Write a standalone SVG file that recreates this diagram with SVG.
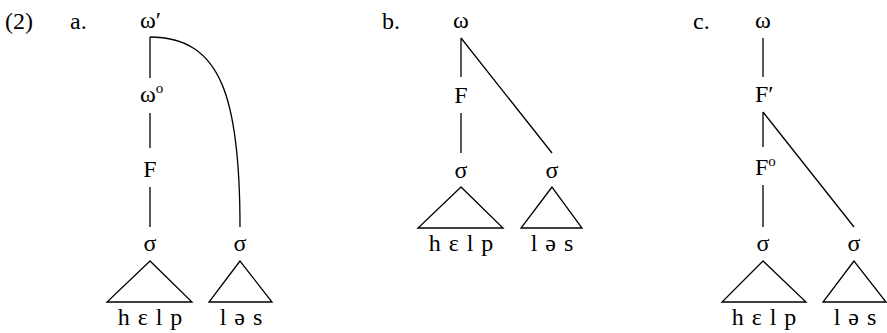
<svg xmlns="http://www.w3.org/2000/svg" width="887" height="333" viewBox="0 0 887 333">
<style>
text{font-family:"Liberation Serif","Times New Roman",serif;font-size:24px;fill:#000}
.m{text-anchor:middle}
.seg{word-spacing:2px}
.ln{stroke:#000;stroke-width:1.3;fill:none}
.sup{font-size:15px}
</style>
<rect width="887" height="333" fill="#fff"/>
<g id="labels">
<text x="5" y="29">(2)</text>
<text x="70" y="29">a.</text>
<text x="382" y="29">b.</text>
<text x="693" y="29">c.</text>
</g>
<g id="connectors" class="ln">
<path d="M150,37V78M150,113V148M150,187V227"/>
<path d="M150,37C222,37 240,100 240,227"/>
<path d="M461,38V77M461,113V153M461,38L552,153"/>
<path d="M763,38V77M763,112V147M763,185V227M763,112L854,227"/>
<path d="M150,261L107,302H192ZM240,261L209,302H272Z"/>
<path d="M461,187L418,228H503ZM552,187L521,228H582Z"/>
<path d="M763,261L722,302H806ZM854,261L823,302H886Z"/>
</g>
<g id="a-omega1"><text x="140" y="28">ω′</text></g>
<g id="a-omega0"><text x="140" y="102">ω<tspan class="sup" dy="-9">o</tspan></text></g>
<g id="a-F"><text class="m" x="150" y="177">F</text></g>
<g id="a-s1"><text class="m" x="150" y="251">σ</text></g>
<g id="a-s2"><text class="m" x="240" y="251">σ</text></g>
<g id="a-help"><text class="m seg" x="150" y="325">h ɛ l p</text></g>
<g id="a-les"><text class="m seg" x="241" y="325">l ə s</text></g>
<g id="b-omega"><text class="m" x="461" y="28">ω</text></g>
<g id="b-F"><text class="m" x="461" y="103">F</text></g>
<g id="b-s1"><text class="m" x="461" y="178">σ</text></g>
<g id="b-s2"><text class="m" x="552" y="178">σ</text></g>
<g id="b-help"><text class="m seg" x="461" y="251">h ɛ l p</text></g>
<g id="b-les"><text class="m seg" x="552" y="251">l ə s</text></g>
<g id="c-omega"><text class="m" x="763" y="28">ω</text></g>
<g id="c-F1"><text x="755" y="102">F′</text></g>
<g id="c-F0"><text x="755" y="175">F<tspan class="sup" dy="-9">o</tspan></text></g>
<g id="c-s1"><text class="m" x="763" y="251">σ</text></g>
<g id="c-s2"><text class="m" x="854" y="251">σ</text></g>
<g id="c-help"><text class="m seg" x="764" y="325">h ɛ l p</text></g>
<g id="c-les"><text class="m seg" x="855" y="325">l ə s</text></g>
</svg>
